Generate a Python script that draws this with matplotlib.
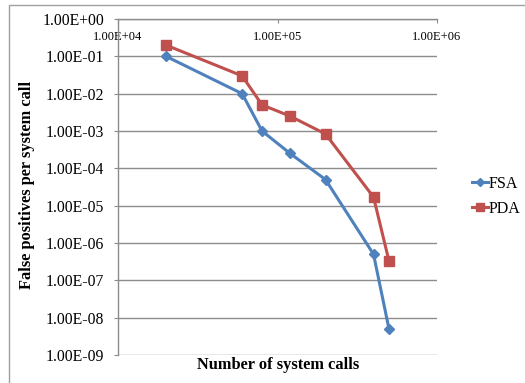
import matplotlib
matplotlib.use("Agg")
import matplotlib.pyplot as plt
from matplotlib.patches import Rectangle
from matplotlib.ticker import NullLocator

plt.rcParams['font.family'] = ['Liberation Serif', 'DejaVu Serif']

# number of system calls
calls = [2e4, 6e4, 8e4, 1.2e5, 2e5, 4e5, 5e5]
# false positives per system call
fsa = [1e-1, 1e-2, 1e-3, 2.5e-4, 5e-5, 5e-7, 5e-9]
pda = [2e-1, 3e-2, 5e-3, 2.5e-3, 8.3e-4, 1.7e-5, 3.3e-7]

xticks = [1e4, 1e5, 1e6]
xlabels = ["1.00E+04", "1.00E+05", "1.00E+06"]
yticks = [10.0**k for k in range(-9, 1)]
ylabels = ["1.00E-09", "1.00E-08", "1.00E-07", "1.00E-06", "1.00E-05",
           "1.00E-04", "1.00E-03", "1.00E-02", "1.00E-01", "1.00E+00"]

blue = "#4F81BD"
red = "#C0504D"
grid = "#8C8C8C"

fig = plt.figure(figsize=(5.25, 3.83), dpi=100)
ax = fig.add_axes([118/525, 1-355/383, (437-118)/525, (355-19)/383])

# chart area border (Excel style)
fig.patches.append(Rectangle((9/525, -0.1), 1.2, 1.1 - 5/383, transform=fig.transFigure,
                             fill=False, edgecolor="#A0A0A0", linewidth=1.0))

ax.plot(calls, fsa, color=blue, marker="D", markersize=5, linewidth=2.2, label="FSA")
ax.plot(calls, pda, color=red, marker="s", markersize=6.8, linewidth=2.2, label="PDA")

ax.set_xscale("log")
ax.set_yscale("log")
ax.set_xlim(1e4, 1e6)
ax.set_ylim(1e-9, 1e0)

ax.set_xticks(xticks)
ax.set_xticklabels(xlabels, fontsize=9)
ax.xaxis.set_minor_locator(NullLocator())
ax.set_yticks(yticks)
ax.set_yticklabels(ylabels, fontsize=11.3)
ax.yaxis.set_minor_locator(NullLocator())

# x axis sits at the top, labels drawn just under it inside the plot
ax.xaxis.tick_top()
ax.tick_params(axis="x", direction="in", length=3, color=grid, pad=-17)
ax.tick_params(axis="y", direction="out", length=3, color=grid, pad=7)

for side in ["right", "bottom"]:
    ax.spines[side].set_visible(False)
for side in ["left", "top"]:
    ax.spines[side].set_color(grid)
    ax.spines[side].set_linewidth(1.0)

ax.grid(True, axis="y", color=grid, linewidth=1.0)
ax.set_axisbelow(True)

fig.text(278/525, 1-365/383, "Number of system calls", ha="center", va="center",
         fontsize=11.8, fontweight="bold")
fig.text(27/525, 1-185/383, "False positives per system call", ha="center", va="center",
         rotation=90, fontsize=11.8, fontweight="bold")

fig.legend(loc="upper left", bbox_to_anchor=(472/525, 1-176/383), frameon=False,
           fontsize=11.5, handlelength=1.0, handletextpad=0.05, labelspacing=0.55,
           markerscale=0.75, borderpad=0, borderaxespad=0)

plt.savefig("out.png", dpi=100)
plt.close()
